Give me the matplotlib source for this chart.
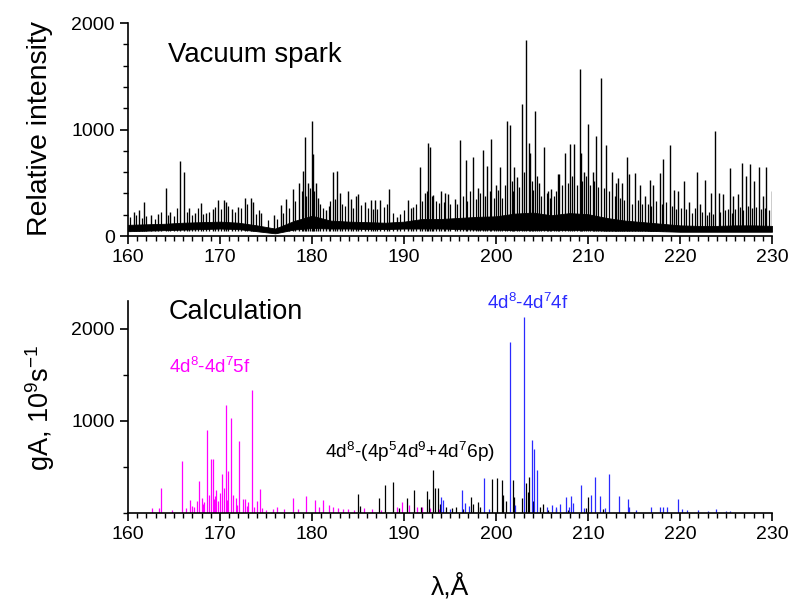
import matplotlib
matplotlib.use("Agg")
import matplotlib.pyplot as plt
from matplotlib.ticker import MultipleLocator

plt.rcParams['font.family'] = ['Liberation Sans', 'DejaVu Sans']
plt.rcParams['mathtext.fontset'] = 'custom'
plt.rcParams['mathtext.rm'] = 'Liberation Sans'
plt.rcParams['mathtext.default'] = 'regular'

# --- vacuum spark spectrum: noisy background band (every 2 A) ---
band_wl = [160, 162, 164, 166, 168, 170, 172, 174, 176, 178, 180, 182, 184, 186,
           188, 190, 192, 194, 196, 198, 200, 202, 204, 206, 208, 210, 212, 214,
           216, 218, 220, 222, 224, 226, 228, 230]
band_low = [45, 50, 55, 60, 65, 70, 65, 45, 25, 60, 75, 70, 70, 65,
            65, 70, 70, 70, 65, 60, 60, 55, 55, 55, 55, 55, 50, 50,
            50, 45, 40, 40, 40, 40, 40, 40]
band_high = [105, 110, 115, 125, 130, 135, 125, 100, 70, 140, 190, 145, 135, 130,
             125, 135, 160, 160, 170, 180, 185, 210, 220, 195, 215, 205, 170, 145,
             130, 115, 100, 95, 95, 100, 100, 95]

# strong spark lines (wavelength, relative intensity)
spark_wl = [160.6, 161.2, 161.7, 162.5, 163.3, 164.1, 164.6, 165.6, 166.1, 166.6,
            167.3, 167.9, 168.5, 169.2, 169.8, 170.4, 170.6, 171.3, 172.0, 172.7,
            173.4, 173.6, 174.5, 175.9, 176.6, 177.2, 177.9, 178.6, 179.0, 179.2,
            179.6, 180.0, 180.1, 180.4, 180.7, 181.5, 182.3, 182.7, 183.0, 183.9,
            184.2, 184.75, 185.0, 185.8, 186.4, 186.9, 187.4, 188.4, 189.2, 190.4,
            191.0, 191.7, 192.3, 192.6, 192.85, 193.2, 194.0, 194.5, 194.8, 195.5,
            196.1, 196.7, 197.5, 198.0, 198.55, 199.0, 199.5, 200.0, 200.4, 201.2,
            201.5, 202.0, 202.3, 202.8, 203.3, 203.55, 203.7, 204.2, 204.7, 205.25,
            205.6, 206.0, 206.7, 206.9, 207.5, 208.05, 208.5, 209.1, 209.25, 209.6,
            210.0, 210.5, 210.9, 211.4, 212.0, 212.6, 213.0, 213.3, 213.7, 214.2,
            214.5, 215.1, 215.6, 216.2, 216.7, 217.1, 217.8, 218.2, 218.9, 219.4,
            219.8, 220.4, 221.0, 221.8, 222.2, 222.7, 223.4, 223.8, 224.2, 224.7,
            225.4, 225.8, 226.3, 226.7, 227.2, 227.6, 228.0, 228.6, 229.0, 229.4,
            230.0]
spark_int = [230, 240, 320, 200, 210, 455, 230, 705, 600, 260,
             220, 310, 220, 250, 340, 340, 320, 250, 270, 360,
             355, 320, 220, 200, 290, 350, 440, 500, 615, 925,
             500, 1080, 770, 500, 360, 240, 600, 615, 400, 420,
             350, 375, 390, 320, 340, 335, 340, 440, 180, 340,
             275, 650, 400, 875, 840, 385, 420, 400, 390, 350,
             900, 710, 745, 450, 810, 655, 915, 480, 650, 1080,
             1040, 650, 550, 1235, 1840, 870, 780, 1170, 500, 840,
             420, 440, 580, 580, 780, 860, 860, 1565, 780, 600,
             1050, 600, 940, 1485, 850, 600, 500, 540, 500, 745,
             580, 590, 480, 380, 530, 480, 590, 720, 855, 430,
             420, 520, 320, 600, 300, 530, 400, 985, 400, 390,
             640, 380, 390, 690, 560, 680, 520, 650, 380, 650,
             420]

# weak spark lines that make up the ragged background
weak_wl = [160.2, 160.9, 161.5, 162.0, 162.9, 163.6, 164.3, 165.0, 165.3, 166.4,
           167.0, 167.6, 168.1, 168.8, 169.5, 170.1, 170.9, 171.6, 172.3, 172.9,
           173.9, 174.2, 175.2, 176.2, 176.9, 177.5, 178.2, 178.9, 179.4, 179.8,
           180.25, 180.9, 181.2, 181.8, 182.0, 182.5, 183.3, 183.6, 184.5, 185.3,
           186.1, 186.6, 187.1, 187.8, 188.1, 188.8, 189.6, 190.0, 190.8, 191.3,
           192.0, 192.45, 193.0, 193.5, 193.8, 194.3, 195.0, 195.8, 196.4, 196.9,
           197.2, 197.8, 198.3, 198.8, 199.3, 199.8, 200.2, 200.7, 201.0, 201.7,
           201.85, 202.5, 203.0, 203.9, 204.0, 204.45, 204.9, 205.5, 205.9, 206.3,
           206.5, 207.2, 207.8, 208.3, 208.8, 209.4, 209.8, 210.2, 210.7, 211.1,
           211.7, 212.3, 212.9, 213.5, 213.9, 214.8, 215.4, 215.9, 216.5, 216.9,
           217.4, 218.0, 218.5, 219.1, 219.6, 220.1, 220.7, 221.3, 221.6, 222.4,
           222.9, 223.1, 223.6, 224.4, 224.9, 225.2, 225.6, 226.0, 226.5, 226.9,
           227.4, 227.8, 228.3, 228.8, 229.2, 229.7]
weak_int = [180, 200, 170, 190, 160, 230, 200, 190, 260, 230,
            200, 260, 210, 230, 270, 250, 280, 230, 260, 300,
            210, 240, 150, 160, 220, 260, 330, 420, 380, 450,
            420, 300, 260, 280, 330, 350, 300, 280, 260, 290,
            260, 250, 250, 270, 300, 220, 210, 240, 260, 300,
            330, 420, 380, 330, 310, 320, 300, 300, 380, 330,
            420, 350, 400, 380, 420, 360, 430, 360, 480, 520,
            420, 460, 600, 520, 430, 560, 380, 400, 360, 380,
            420, 480, 500, 560, 480, 520, 560, 480, 520, 460,
            450, 420, 380, 360, 340, 300, 340, 300, 300, 280,
            330, 300, 320, 280, 250, 260, 250, 220, 260, 230,
            200, 230, 210, 230, 240, 250, 220, 250, 270, 240,
            280, 260, 270, 250, 260, 240]

# --- calculated gA values ---
f5_wl = [162.6, 163.4, 163.6, 164.8, 165.9, 166.3, 166.7, 167.0, 167.2, 167.5,
         167.75, 168.0, 168.2, 168.3, 168.6, 168.8, 169.0, 169.2, 169.3, 169.5,
         169.6, 169.8, 170.0, 170.2, 170.4, 170.65, 170.8, 170.9, 171.15, 171.4,
         171.7, 171.9, 172.1, 172.5, 172.7, 172.9, 173.0, 173.45, 173.7, 174.0,
         174.3, 174.6, 175.0, 175.8, 176.2, 177.0, 177.95, 178.5, 179.3, 180.3,
         180.8, 181.2, 181.8, 182.3, 182.8, 183.4, 183.9, 184.6, 185.6, 186.5,
         187.5, 189.2, 189.8, 190.5, 191.4, 192.0, 192.8, 193.8]
f5_ga = [50, 50, 275, 30, 565, 50, 140, 80, 60, 125,
         350, 160, 100, 120, 900, 200, 590, 590, 150, 180,
         250, 130, 220, 420, 270, 1175, 140, 450, 1030, 190,
         160, 90, 785, 150, 150, 80, 120, 1330, 70, 130,
         265, 50, 30, 40, 60, 40, 160, 40, 185, 140,
         60, 140, 90, 60, 50, 40, 40, 30, 50, 40,
         30, 60, 120, 90, 60, 70, 50, 40]

mix_wl = [185.0, 185.2, 187.3, 187.9, 188.8, 189.5, 190.35, 191.1, 191.8, 192.5,
          192.7, 193.1, 193.4, 193.7, 193.9, 194.6, 195.2, 195.7, 196.4, 197.3,
          197.5, 198.0, 198.3, 199.6, 200.1, 200.6, 200.8, 201.1, 201.85, 202.0,
          202.8, 203.3, 203.45, 203.6, 204.0, 204.8, 205.1, 205.6, 206.5, 207.8,
          209.8, 210.0, 211.6]
mix_ga = [205, 80, 160, 305, 335, 50, 160, 250, 60, 240,
          150, 470, 270, 270, 100, 70, 50, 60, 40, 170,
          100, 120, 60, 370, 375, 360, 190, 130, 360, 170,
          160, 330, 230, 390, 130, 60, 100, 30, 40, 30,
          50, 170, 40]

f4_wl = [194.0, 194.2, 195.0, 196.3, 196.6, 197.1, 198.7, 199.2, 201.55, 202.1,
         203.05, 203.9, 204.1, 204.45, 205.5, 206.1, 206.5, 207.0, 207.6, 207.9,
         208.15, 208.4, 209.25, 209.6, 210.3, 210.8, 211.3, 211.8, 212.3, 213.4,
         214.3, 214.5, 215.2, 216.9, 217.8, 218.2, 218.6, 219.75, 220.2, 220.8,
         222.0, 223.0, 223.9, 225.0, 225.4]
f4_ga = [170, 140, 40, 250, 110, 80, 380, 40, 1860, 90,
         2125, 795, 690, 465, 60, 90, 60, 100, 170, 70,
         185, 110, 300, 50, 200, 390, 180, 50, 425, 180,
         150, 60, 30, 60, 60, 60, 60, 155, 40, 30,
         30, 20, 40, 25, 25]

fig = plt.figure(figsize=(7.93, 5.99), dpi=100)
ax1 = fig.add_axes([0.1614, 0.606, 0.8121, 0.3556])
ax2 = fig.add_axes([0.1614, 0.1436, 0.8121, 0.354])

# top panel
ax1.fill_between(band_wl, band_low, band_high, color='black', lw=0.6)
ax1.vlines(weak_wl, [45] * len(weak_wl), weak_int, color='black', lw=0.9)
ax1.vlines(spark_wl, [45] * len(spark_wl), spark_int, color='black', lw=1.0)
ax1.set_xlim(160, 230)
ax1.set_ylim(0, 2000)
ax1.set_yticks([0, 1000, 2000])
ax1.yaxis.set_minor_locator(MultipleLocator(200))
ax1.text(0.062, 0.85, 'Vacuum spark', transform=ax1.transAxes, fontsize=19.8,
         va='center')

# bottom panel
ax2.vlines(f5_wl, 0, f5_ga, color='#ff00ff', lw=0.9)
ax2.vlines(mix_wl, 0, mix_ga, color='black', lw=0.9)
ax2.vlines(f4_wl, 0, f4_ga, color='#2a2aff', lw=0.9)
ax2.set_xlim(160, 230)
ax2.set_ylim(0, 2300)
ax2.set_yticks([1000, 2000])
ax2.yaxis.set_minor_locator(MultipleLocator(500))
ax2.text(0.063, 0.95, 'Calculation', transform=ax2.transAxes, fontsize=19.5,
         va='center')
ax2.text(0.063, 0.69, r'4d$^8$-4d$^7$5f', transform=ax2.transAxes, fontsize=13.5,
         color='#ff00ff', va='center')
ax2.text(0.306, 0.29, r'4d$^8$-(4p$^5$4d$^9$+4d$^7$6p)', transform=ax2.transAxes,
         fontsize=13.8, color='black', va='center')
ax2.text(0.558, 0.99, r'4d$^8$-4d$^7$4f', transform=ax2.transAxes, fontsize=13.5,
         color='#2a2aff', va='center')

for ax in (ax1, ax2):
    ax.spines['top'].set_visible(False)
    ax.spines['right'].set_visible(False)
    ax.spines['left'].set_linewidth(1.2)
    ax.spines['bottom'].set_linewidth(1.2)
    ax.set_xticks([160, 170, 180, 190, 200, 210, 220, 230])
    ax.xaxis.set_minor_locator(MultipleLocator(1))
    ax.tick_params(which='major', direction='out', length=6, width=1.2,
                   labelsize=14)
    ax.tick_params(which='minor', direction='out', length=3.5, width=1.0)

fig.text(0.05, 0.785, 'Relative intensity', rotation=90, fontsize=20.5,
         ha='center', va='center')
fig.text(0.05, 0.32, r'gA, 10$^9$s$^{-1}$', rotation=90, fontsize=19.5,
         ha='center', va='center')
fig.text(0.567, 0.022, 'λ,Å', fontsize=19, ha='center', va='center')

fig.savefig('out.png', dpi=100)
